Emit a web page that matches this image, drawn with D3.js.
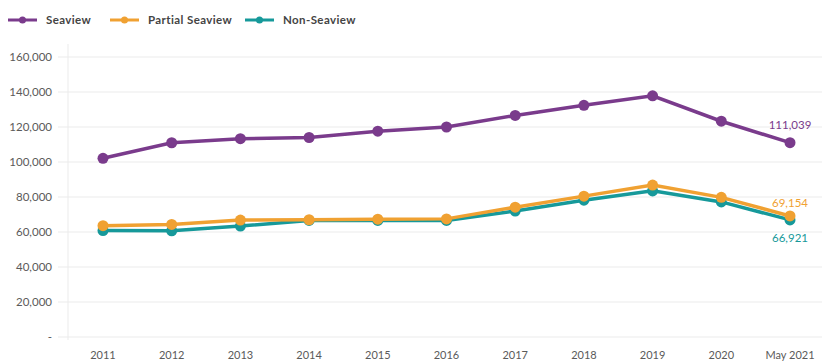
<!DOCTYPE html>
<html>
<head>
<meta charset="utf-8">
<script src="https://cdn.jsdelivr.net/npm/d3@7"></script>
<style>
  body { margin: 0; background: #fff; }
  svg { font-family: Lato, "Noto Sans", sans-serif; }
</style>
</head>
<body>
<svg id="chart"></svg>
<script>
const years = ["2011", "2012", "2013", "2014", "2015", "2016", "2017", "2018", "2019", "2020", "May 2021"];
const seaview = [102100, 111000, 113300, 114000, 117600, 120000, 126600, 132400, 137800, 123300, 111039];
const partialSeaview = [63600, 64300, 66800, 67000, 67300, 67500, 74200, 80500, 86800, 79800, 69154];
const nonSeaview = [60800, 60700, 63400, 66600, 66600, 66600, 72000, 78200, 83500, 77200, 66921];
const yTicks = [0, 20000, 40000, 60000, 80000, 100000, 120000, 140000, 160000];

const series = [
  { name: "Seaview", values: seaview, color: "#7a3b8c", labelDy: -18 },
  { name: "Partial Seaview", values: partialSeaview, color: "#f0a132", labelDy: -13 },
  { name: "Non-Seaview", values: nonSeaview, color: "#16999a", labelDy: 18 }
];

const W = 830, H = 363;
const svg = d3.select("#chart").attr("width", W).attr("height", H);

const x = d3.scalePoint().domain(years).range([103, 790]);
const y = d3.scaleLinear().domain([0, 160000]).range([337, 57]);

// gridlines
svg.append("g")
  .selectAll("line")
  .data(yTicks)
  .join("line")
  .attr("x1", 58).attr("x2", 822)
  .attr("y1", d => y(d)).attr("y2", d => y(d))
  .attr("stroke", "#ebebeb").attr("stroke-width", 1);

// y axis line
svg.append("line")
  .attr("x1", 68).attr("x2", 68)
  .attr("y1", 44).attr("y2", 340)
  .attr("stroke", "#ebebeb");

const fmt = d3.format(",");
svg.append("g")
  .selectAll("text")
  .data(yTicks)
  .join("text")
  .attr("x", 52)
  .attr("y", d => y(d))
  .attr("dy", "0.35em")
  .attr("text-anchor", "end")
  .attr("font-size", 11.5)
  .attr("fill", "#5a5a5a")
  .text(d => d === 0 ? "-" : fmt(d));

svg.append("g")
  .selectAll("text")
  .data(years)
  .join("text")
  .attr("x", d => x(d))
  .attr("y", 359)
  .attr("text-anchor", "middle")
  .attr("font-size", 11)
  .attr("fill", "#5a5a5a")
  .text(d => d);

const line = d3.line()
  .x((d, i) => x(years[i]))
  .y(d => y(d));

series.slice().reverse().forEach(s => {
  const g = svg.append("g");
  g.append("path")
    .datum(s.values)
    .attr("fill", "none")
    .attr("stroke", s.color)
    .attr("stroke-width", 3.5)
    .attr("d", line);
  g.selectAll("circle")
    .data(s.values)
    .join("circle")
    .attr("cx", (d, i) => x(years[i]))
    .attr("cy", d => y(d))
    .attr("r", 5.5)
    .attr("fill", s.color);
});

// end labels
series.forEach(s => {
  const last = s.values[s.values.length - 1];
  svg.append("text")
    .attr("x", x(years[years.length - 1]))
    .attr("y", y(last) + s.labelDy)
    .attr("dy", "0.35em")
    .attr("text-anchor", "middle")
    .attr("font-size", 11.5)
    .attr("fill", s.color)
    .text(fmt(last));
});

// legend
const legendX = [8, 110, 245];
const legend = svg.append("g")
  .selectAll("g")
  .data(series)
  .join("g")
  .attr("transform", (d, i) => `translate(${legendX[i]},20)`);
legend.append("line")
  .attr("x1", 0).attr("x2", 29)
  .attr("stroke", d => d.color).attr("stroke-width", 3);
legend.append("circle")
  .attr("cx", 14.5).attr("r", 3.5)
  .attr("fill", d => d.color);
legend.append("text")
  .attr("x", 38).attr("dy", "0.35em")
  .attr("font-size", 11.5)
  .attr("font-weight", "bold")
  .attr("letter-spacing", 0.4)
  .attr("fill", "#444")
  .text(d => d.name);
</script>
</body>
</html>
